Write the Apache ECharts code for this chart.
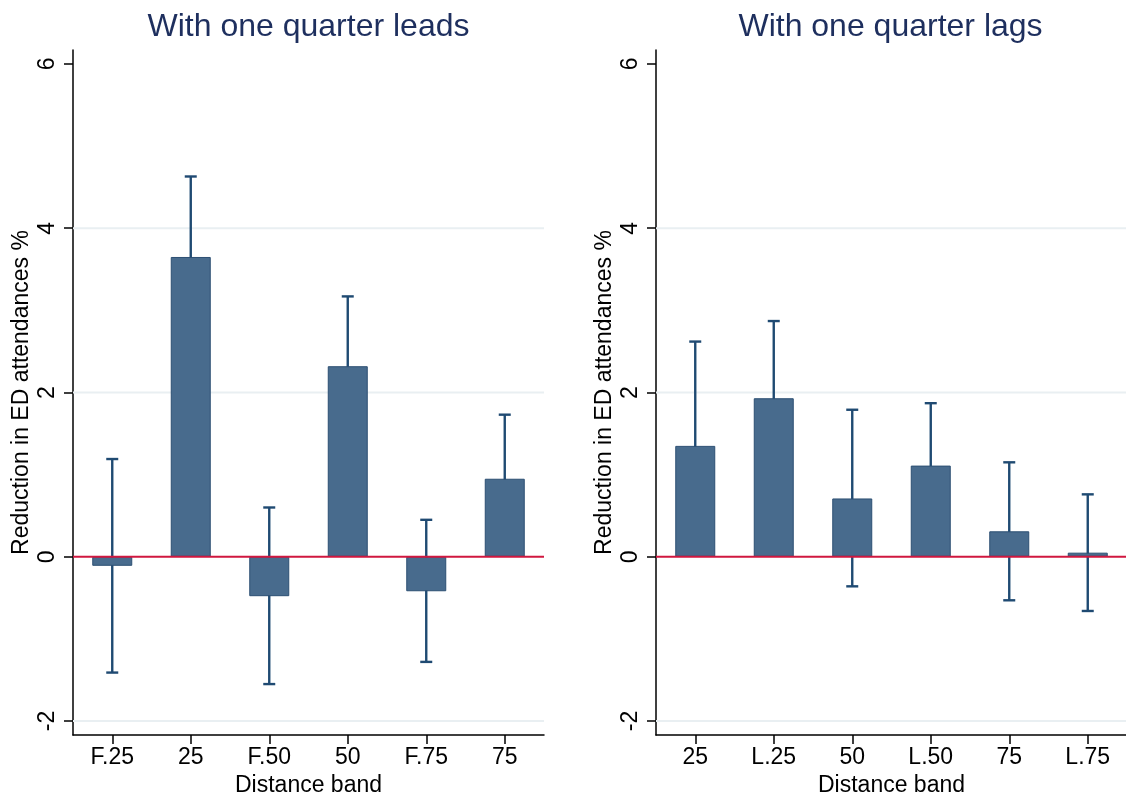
<!DOCTYPE html>
<html>
<head>
<meta charset="utf-8">
<script src="https://cdn.jsdelivr.net/npm/echarts@6/dist/echarts.min.js"></script>
<style>
html,body{margin:0;padding:0;background:#fff;}
#chart{width:1126px;height:796px;}
</style>
</head>
<body>
<div id="chart"></div>
<script>
// ---- data ----
const leadsCats = ['F.25', '25', 'F.50', '50', 'F.75', '75'];
const leadsCoef = [-0.11, 3.65, -0.48, 2.32, -0.42, 0.95];
const leadsLo   = [-1.41, 2.66, -1.55, 1.47, -1.28, 0.17];
const leadsHi   = [1.19, 4.63, 0.60, 3.17, 0.45, 1.73];

const lagsCats = ['25', 'L.25', '50', 'L.50', '75', 'L.75'];
const lagsCoef = [1.35, 1.93, 0.71, 1.11, 0.31, 0.05];
const lagsLo   = [0.08, 0.99, -0.36, 0.35, -0.53, -0.66];
const lagsHi   = [2.62, 2.87, 1.79, 1.87, 1.15, 0.76];

const yTicks = [-2, 0, 2, 4, 6];
const gridVals = [-2, 2, 4];
const titles = ['With one quarter leads', 'With one quarter lags'];
const yName = 'Reduction in ED attendances %';
const xName = 'Distance band';

// ---- style ----
const FONT = '"Liberation Sans", Arial, sans-serif';
const BAR = '#486b8d';
const BAR_EDGE = '#2c4f73';
const ERR = '#1f4a72';
const ZERO = '#d0173f';
const GRIDC = '#e9eff2';
const TITLEC = '#1e2f5e';

const grids = [
  {left: 73, top: 50, width: 471, height: 685, outerBoundsMode: 'none', containLabel: false},
  {left: 656, top: 50, width: 471, height: 685, outerBoundsMode: 'none', containLabel: false}
];

function xAxisFor(i, cats) {
  return {
    type: 'category', gridIndex: i, data: cats, boundaryGap: true,
    name: xName, nameLocation: 'middle', nameGap: 34,
    nameTextStyle: {fontFamily: FONT, fontSize: 23, color: '#000'},
    axisLine: {show: true, onZero: false, lineStyle: {color: '#000', width: 1.5}},
    axisTick: {show: true, alignWithLabel: true, length: 9, lineStyle: {color: '#000', width: 1.5}},
    axisLabel: {fontFamily: FONT, fontSize: 23, color: '#000', margin: 11},
    splitLine: {show: false}
  };
}
function yAxisFor(i) {
  return {
    type: 'value', gridIndex: i, min: -2.17, max: 6.17,
    name: yName, nameLocation: 'middle', nameGap: 40, nameRotate: 90,
    nameTextStyle: {fontFamily: FONT, fontSize: 23, color: '#000'},
    axisLine: {show: true, lineStyle: {color: '#000', width: 1.5}},
    axisTick: {show: true, length: 9, customValues: yTicks, lineStyle: {color: '#000', width: 1.5}},
    axisLabel: {fontFamily: FONT, fontSize: 23, color: '#000', rotate: 90, margin: 14, customValues: yTicks},
    splitLine: {show: false}
  };
}

function errSeries(i, lo, hi) {
  return {
    type: 'custom', xAxisIndex: i, yAxisIndex: i, z: 3,
    data: lo.map((v, k) => [k, v, hi[k]]),
    renderItem: function (params, api) {
      const k = api.value(0);
      const pLo = api.coord([k, api.value(1)]);
      const pHi = api.coord([k, api.value(2)]);
      const hw = 6;
      const st = {stroke: ERR, lineWidth: 2.4};
      return {
        type: 'group',
        children: [
          {type: 'line', shape: {x1: pHi[0], y1: pHi[1], x2: pLo[0], y2: pLo[1]}, style: st},
          {type: 'line', shape: {x1: pHi[0] - hw, y1: pHi[1], x2: pHi[0] + hw, y2: pHi[1]}, style: st},
          {type: 'line', shape: {x1: pLo[0] - hw, y1: pLo[1], x2: pLo[0] + hw, y2: pLo[1]}, style: st}
        ]
      };
    }
  };
}
function barSeries(i, vals) {
  return {
    type: 'bar', xAxisIndex: i, yAxisIndex: i, z: 4, barWidth: 40,
    data: vals,
    itemStyle: {color: BAR, borderColor: BAR_EDGE, borderWidth: 1},
    emphasis: {disabled: true}
  };
}
function hLineSeries(i, vals, color, width, z) {
  return {
    type: 'custom', xAxisIndex: i, yAxisIndex: i, z: z, silent: true,
    data: vals.map(v => [0, v]),
    renderItem: function (params, api) {
      const cs = params.coordSys;
      const y = api.coord([0, api.value(1)])[1];
      return {
        type: 'line',
        shape: {x1: cs.x, y1: y, x2: cs.x + cs.width, y2: y},
        style: {stroke: color, lineWidth: width}
      };
    }
  };
}

const chart = echarts.init(document.getElementById('chart'), null, {renderer: 'canvas'});
chart.setOption({
  animation: false,
  backgroundColor: '#fff',
  title: titles.map((t, i) => ({
    text: t, left: grids[i].left + grids[i].width / 2 - (i === 1 ? 6 : 5), top: 6, textAlign: 'center',
    textStyle: {fontFamily: FONT, fontSize: 32, fontWeight: 'normal', color: TITLEC}
  })),
  grid: grids,
  xAxis: [xAxisFor(0, leadsCats), xAxisFor(1, lagsCats)],
  yAxis: [yAxisFor(0), yAxisFor(1)],
  series: [
    hLineSeries(0, gridVals, GRIDC, 2, 1), hLineSeries(1, gridVals, GRIDC, 2, 1),
    errSeries(0, leadsLo, leadsHi), errSeries(1, lagsLo, lagsHi),
    barSeries(0, leadsCoef), barSeries(1, lagsCoef),
    hLineSeries(0, [0], ZERO, 2, 6), hLineSeries(1, [0], ZERO, 2, 6)
  ]
});
</script>
</body>
</html>
